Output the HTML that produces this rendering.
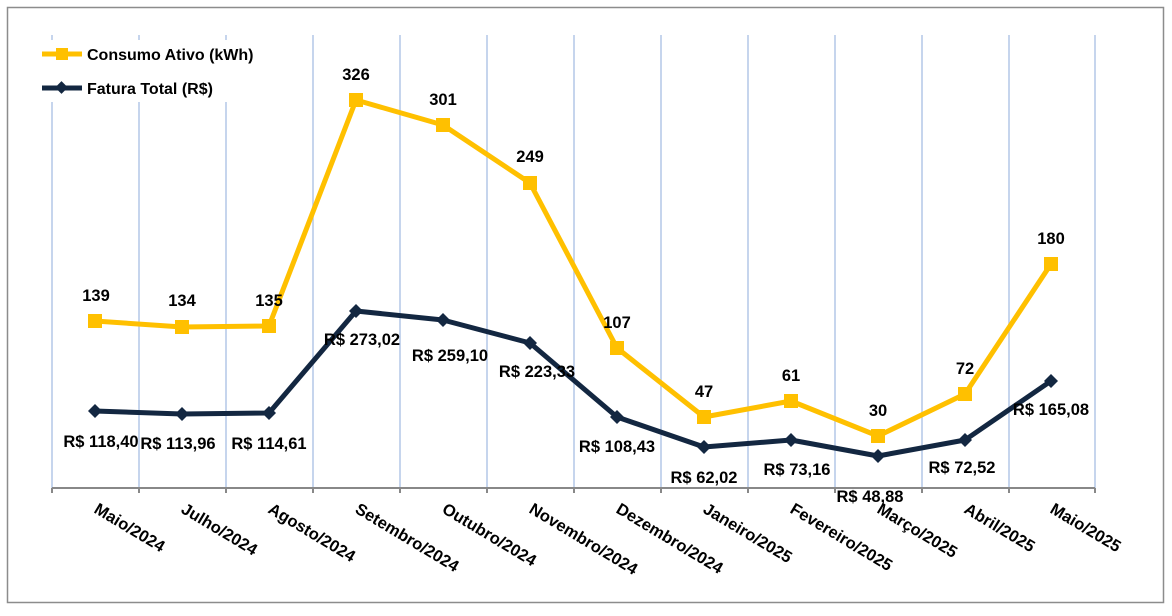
<!DOCTYPE html>
<html><head><meta charset="utf-8"><style>body{margin:0;background:#fff}</style></head><body>
<svg width="1172" height="611" xmlns="http://www.w3.org/2000/svg" font-family="Liberation Sans, sans-serif" font-weight="bold">
<rect x="0" y="0" width="1172" height="611" fill="#fff"/>
<rect x="7.5" y="7.5" width="1156" height="595" fill="none" stroke="#8c8c8c" stroke-width="1.5"/>
<g stroke="#b4c7e7" stroke-width="1.5">
<line x1="52" y1="35" x2="52" y2="488"/><line x1="139" y1="35" x2="139" y2="488"/><line x1="226" y1="35" x2="226" y2="488"/><line x1="313" y1="35" x2="313" y2="488"/><line x1="400" y1="35" x2="400" y2="488"/><line x1="487" y1="35" x2="487" y2="488"/><line x1="574" y1="35" x2="574" y2="488"/><line x1="661" y1="35" x2="661" y2="488"/><line x1="748" y1="35" x2="748" y2="488"/><line x1="835" y1="35" x2="835" y2="488"/><line x1="922" y1="35" x2="922" y2="488"/><line x1="1009" y1="35" x2="1009" y2="488"/><line x1="1095" y1="35" x2="1095" y2="488"/>
</g>
<rect x="30" y="40" width="240" height="62" fill="#fff"/>
<g stroke="#888" stroke-width="2">
<line x1="52" y1="488" x2="1095" y2="488"/>
<line x1="52" y1="488" x2="52" y2="493"/><line x1="139" y1="488" x2="139" y2="493"/><line x1="226" y1="488" x2="226" y2="493"/><line x1="313" y1="488" x2="313" y2="493"/><line x1="400" y1="488" x2="400" y2="493"/><line x1="487" y1="488" x2="487" y2="493"/><line x1="574" y1="488" x2="574" y2="493"/><line x1="661" y1="488" x2="661" y2="493"/><line x1="748" y1="488" x2="748" y2="493"/><line x1="835" y1="488" x2="835" y2="493"/><line x1="922" y1="488" x2="922" y2="493"/><line x1="1009" y1="488" x2="1009" y2="493"/><line x1="1095" y1="488" x2="1095" y2="493"/>
</g>
<!-- legend -->
<line x1="42" y1="54" x2="82" y2="54" stroke="#ffc000" stroke-width="5"/><rect x="56" y="48" width="12" height="12" fill="#ffc000"/>
<text x="87" y="60" font-size="16">Consumo Ativo (kWh)</text>
<line x1="42" y1="88" x2="82" y2="88" stroke="#132741" stroke-width="5"/><rect x="57" y="83" width="9" height="9" fill="#132741" transform="rotate(45 61.5 87.5)"/>
<text x="87" y="94" font-size="16">Fatura Total (R$)</text>
<!-- yellow -->
<polyline fill="none" stroke="#ffc000" stroke-width="5" stroke-linejoin="round" points="95,321 182,327 269,326 356,100 443,125 530,183 617,348 704,417 791,401 878,436 965,394 1051,264"/>
<g fill="#ffc000">
<rect x="88" y="314" width="14" height="14"/><rect x="175" y="320" width="14" height="14"/><rect x="262" y="319" width="14" height="14"/><rect x="349" y="93" width="14" height="14"/><rect x="436" y="118" width="14" height="14"/><rect x="523" y="176" width="14" height="14"/><rect x="610" y="341" width="14" height="14"/><rect x="697" y="410" width="14" height="14"/><rect x="784" y="394" width="14" height="14"/><rect x="871" y="429" width="14" height="14"/><rect x="958" y="387" width="14" height="14"/><rect x="1044" y="257" width="14" height="14"/>
</g>
<!-- navy -->
<polyline fill="none" stroke="#132741" stroke-width="5" stroke-linejoin="round" points="95,411 182,414 269,413 356,311 443,320 530,343 617,417 704,447 791,440 878,456 965,440 1051,381"/>
<g fill="#132741">
<path d="M95 404l7 7-7 7-7-7z"/><path d="M182 407l7 7-7 7-7-7z"/><path d="M269 406l7 7-7 7-7-7z"/><path d="M356 304l7 7-7 7-7-7z"/><path d="M443 313l7 7-7 7-7-7z"/><path d="M530 336l7 7-7 7-7-7z"/><path d="M617 410l7 7-7 7-7-7z"/><path d="M704 440l7 7-7 7-7-7z"/><path d="M791 433l7 7-7 7-7-7z"/><path d="M878 449l7 7-7 7-7-7z"/><path d="M965 433l7 7-7 7-7-7z"/><path d="M1051 374l7 7-7 7-7-7z"/>
</g>
<g font-size="16.5" text-anchor="middle" fill="#000">
<text x="96" y="301">139</text><text x="182" y="306">134</text><text x="269" y="306">135</text><text x="356" y="80">326</text><text x="443" y="105">301</text><text x="530" y="162">249</text><text x="617" y="328">107</text><text x="704" y="397">47</text><text x="791" y="381">61</text><text x="878" y="416">30</text><text x="965" y="374">72</text><text x="1051" y="244">180</text>
<text x="101" y="447">R$ 118,40</text><text x="178" y="449">R$ 113,96</text><text x="269" y="449">R$ 114,61</text><text x="362" y="345">R$ 273,02</text><text x="450" y="361">R$ 259,10</text><text x="537" y="377">R$ 223,33</text><text x="617" y="452">R$ 108,43</text><text x="704" y="483">R$ 62,02</text><text x="797" y="475">R$ 73,16</text><text x="870" y="502">R$ 48,88</text><text x="962" y="473">R$ 72,52</text><text x="1051" y="415">R$ 165,08</text>
</g>
<g font-size="16.5" fill="#000">
<text transform="translate(93,512) rotate(31)">Maio/2024</text>
<text transform="translate(180,512) rotate(31)">Julho/2024</text>
<text transform="translate(267,512) rotate(31)">Agosto/2024</text>
<text transform="translate(354,512) rotate(31)">Setembro/2024</text>
<text transform="translate(441,512) rotate(31)">Outubro/2024</text>
<text transform="translate(528,512) rotate(31)">Novembro/2024</text>
<text transform="translate(615,512) rotate(31)">Dezembro/2024</text>
<text transform="translate(702,512) rotate(31)">Janeiro/2025</text>
<text transform="translate(789,512) rotate(31)">Fevereiro/2025</text>
<text transform="translate(876,512) rotate(31)">Março/2025</text>
<text transform="translate(963,512) rotate(31)">Abril/2025</text>
<text transform="translate(1049,512) rotate(31)">Maio/2025</text>
</g>
</svg>
</body></html>
